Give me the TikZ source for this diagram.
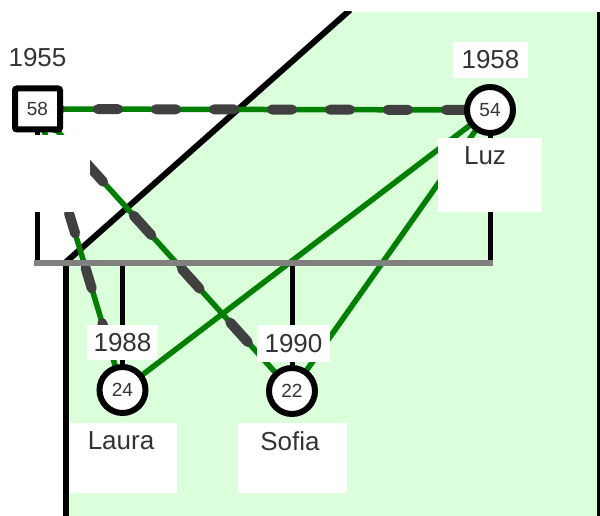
\documentclass[tikz,border=0pt]{standalone}
\usepackage{fontspec}
\setmainfont{Liberation Sans}
\definecolor{bggreen}{RGB}{218,255,218}
\definecolor{relgreen}{RGB}{0,128,0}
\definecolor{dashgrey}{RGB}{64,64,64}
\definecolor{sibgrey}{RGB}{128,128,128}
\definecolor{txt}{RGB}{51,51,51}
\pgfdeclarelayer{Lzero}
\pgfdeclarelayer{Lone}
\pgfdeclarelayer{Ltwo}
\pgfdeclarelayer{Lthree}
\pgfsetlayers{Lzero,Lone,Ltwo,Lthree,main}
\tikzset{
  bigtxt/.style={text=txt, font=\fontsize{26}{30}\selectfont},
  smalltxt/.style={text=txt, font=\fontsize{19}{22}\selectfont},
  malebox/.style={draw=black, line width=6pt, fill=white, rounded corners=2pt,
    minimum width=45pt, minimum height=41pt, inner sep=0pt, smalltxt},
  femalecirc/.style={draw=black, line width=6pt, fill=white, circle,
    minimum size=46pt, inner sep=0pt, smalltxt},
  wbox/.style={fill=white, inner sep=0pt, bigtxt},
  rel/.style={relgreen, line width=5.5pt},
  reldash/.style={dashgrey, line width=10pt, line cap=round},
  borderline/.style={black, line width=6pt},
  sibline/.style={sibgrey, line width=6pt},
  descline/.style={black, line width=5pt}
}
\begin{document}
\begin{tikzpicture}[x=1pt, y=-1pt]
\useasboundingbox (0,0) rectangle (600,516);

% persons
\node[malebox] (p1955) at (37.5,109) {58};
\node[femalecirc] (luz) at (490,110) {54};
\node[femalecirc] (laura) at (122.5,390) {24};
\node[femalecirc] (sofia) at (292,391) {22};

\coordinate (sibL) at (34,263);
\coordinate (sibR) at (493,263);
\coordinate (bdA) at (66,262);
\coordinate (bdB) at (350,10);
\coordinate (bdC) at (66,516);
\coordinate (rtA) at (598.5,12);
\coordinate (rtB) at (598.5,516);

\begin{pgfonlayer}{Lzero}
  \fill[bggreen] (347,12) -- (597,12) -- (597,516) -- (66,516) -- (66,262) -- cycle;
  \begin{scope}
    \clip (0,12) rectangle (600,516);
    \draw[borderline] (bdA) -- (bdB);
  \end{scope}
  \draw[borderline] (bdA) -- (bdC);
  \draw[black, line width=3pt] (rtA) -- (rtB);
\end{pgfonlayer}

\begin{pgfonlayer}{Lone}
  % marriage
  \draw[rel] (p1955.center) -- (luz.center);
  \draw[reldash, dash pattern=on 20pt off 38pt, dash phase=55.5pt] (p1955.center) -- (luz.center);
  % father - Laura
  \draw[rel] (p1955.center) -- (laura.center);
  \draw[reldash, dash pattern=on 21pt off 36.5pt, dash phase=6.2pt] (p1955.center) -- (laura.center);
  % father - Sofia
  \draw[rel] (p1955.center) -- (sofia.center);
  \draw[reldash, dash pattern=on 26pt off 46pt, dash phase=0.2pt] (p1955.center) -- (sofia.center);
  % mother - children
  \draw[rel] (luz.center) -- (laura.center);
  \draw[rel] (luz.center) -- (sofia.center);
\end{pgfonlayer}

\begin{pgfonlayer}{Ltwo}
  \draw[descline] (p1955.center) -- (p1955.center |- sibL);
  \draw[descline] (luz.center) -- (luz.center |- sibL);
  \draw[descline] (laura.center |- sibL) -- (laura.center);
  \draw[descline] (sofia.center |- sibL) -- (sofia.center);
  \draw[sibline] (sibL) -- (sibR);
\end{pgfonlayer}

\begin{pgfonlayer}{Lthree}
  % year boxes
  \node[wbox, minimum width=75pt, minimum height=36pt] (y1955) at (37.5,58) {1955};
  \node[wbox, minimum width=75pt, minimum height=36pt] (y1958) at (490.5,60) {1958};
  \node[wbox, minimum width=71pt, minimum height=35pt] (y1988) at (122.5,342.5) {1988};
  \node[wbox, minimum width=73pt, minimum height=37pt] (y1990) at (293.5,343.5) {1990};
  % name boxes
  \node[wbox, minimum width=80pt, minimum height=77pt] (nmale) at (50,173.5) {};
  \node[wbox, minimum width=104pt, minimum height=74pt] (nluzbox) at (490,175) {};
  \node[wbox, minimum width=108pt, minimum height=70pt] (nlaurabox) at (123,458) {};
  \node[wbox, minimum width=109pt, minimum height=70pt] (nsofiabox) at (292.5,458) {};
  \node[bigtxt, inner sep=0pt] (nluz) at (485,156) {Luz};
  \node[bigtxt, inner sep=0pt] (nlaura) at (121,441) {Laura};
  \node[bigtxt, inner sep=0pt] (nsofia) at (290,441) {Sofia};
\end{pgfonlayer}
\end{tikzpicture}
\end{document}
